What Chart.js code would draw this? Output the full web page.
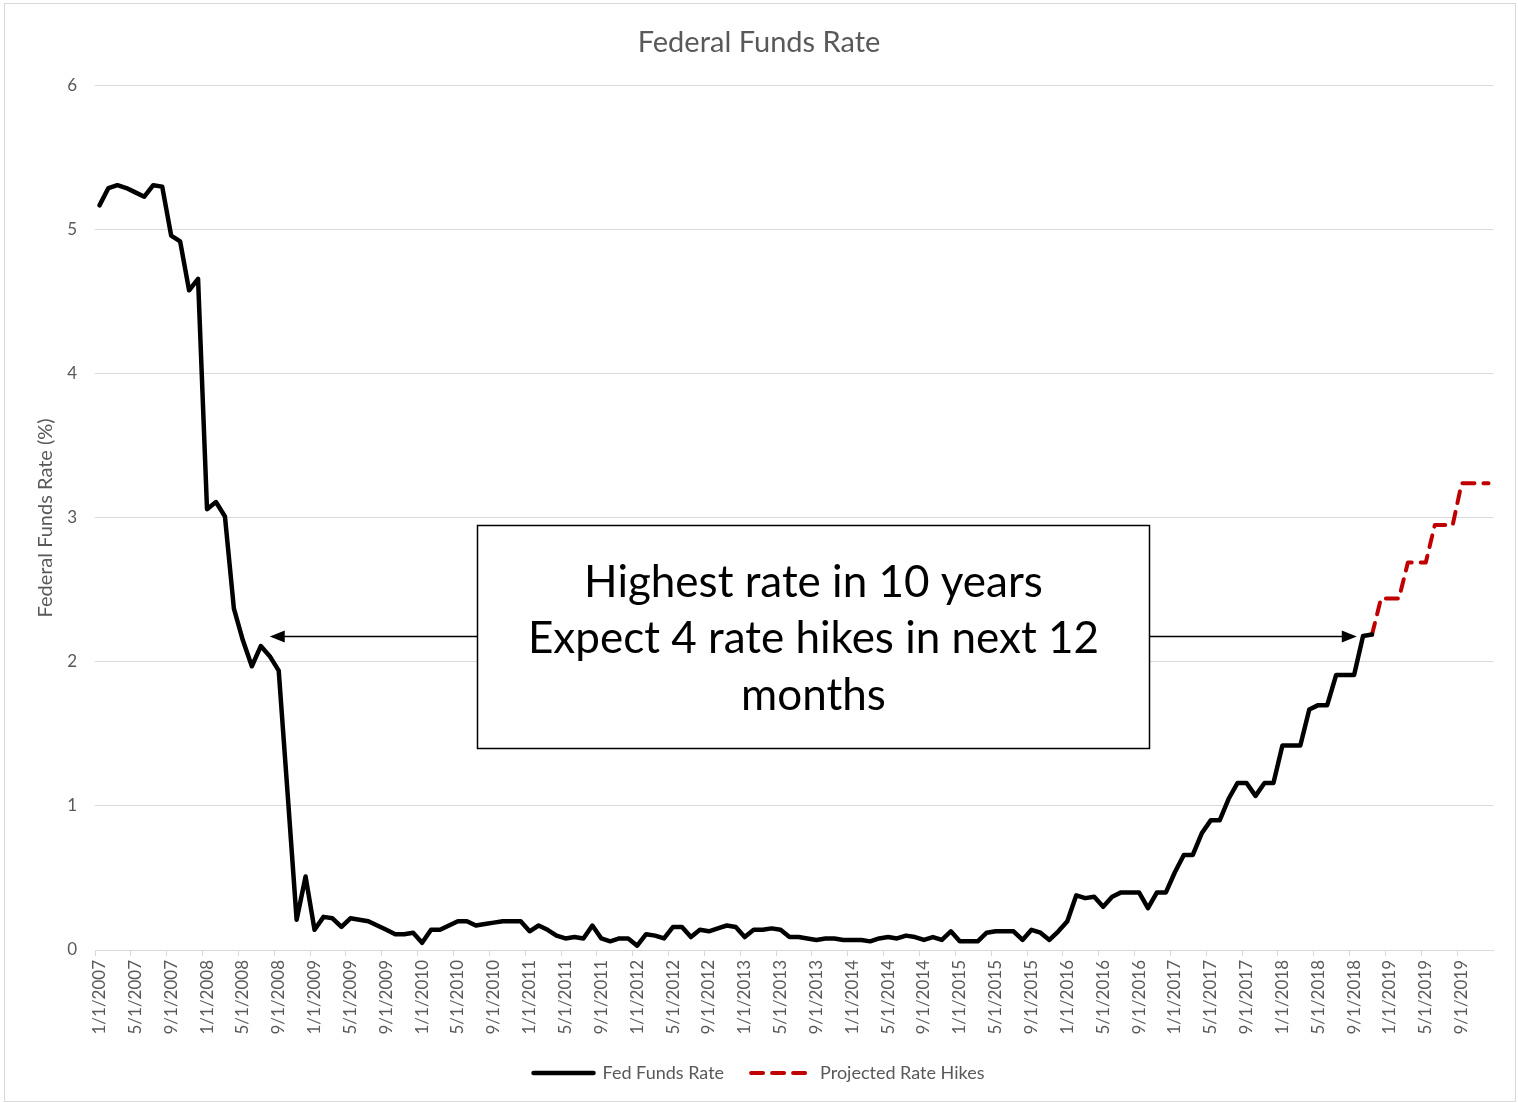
<!DOCTYPE html>
<html>
<head>
<meta charset="utf-8">
<title>Federal Funds Rate</title>
<script src="https://cdn.jsdelivr.net/npm/chart.js@4.4.1/dist/chart.umd.min.js"></script>
<style>
  html, body { margin: 0; padding: 0; background: #fff; }
  #wrap { position: relative; width: 1518px; height: 1103px; }
</style>
</head>
<body>
<div id="wrap"><canvas id="myChart"></canvas></div>
<script>
// months 1/1/2007 .. 12/1/2019 (date axis, one slot per month)
const months = [];
for (let yr = 2007; yr <= 2019; yr++) {
  for (let mo = 1; mo <= 12; mo++) months.push(mo + '/1/' + yr);
}

// Fed Funds Rate, 1/1/2007 .. 11/1/2018
const fedFundsRate = [
  5.17, 5.29, 5.31, 5.29, 5.26, 5.23, 5.31, 5.30, 4.96, 4.92, 4.58, 4.66, // 2007
  3.06, 3.11, 3.01, 2.37, 2.15, 1.97, 2.11, 2.04, 1.94, 1.08, 0.21, 0.51, // 2008
  0.14, 0.23, 0.22, 0.16, 0.22, 0.21, 0.20, 0.17, 0.14, 0.11, 0.11, 0.12, // 2009
  0.05, 0.14, 0.14, 0.17, 0.20, 0.20, 0.17, 0.18, 0.19, 0.20, 0.20, 0.20, // 2010
  0.13, 0.17, 0.14, 0.10, 0.08, 0.09, 0.08, 0.17, 0.08, 0.06, 0.08, 0.08, // 2011
  0.03, 0.11, 0.10, 0.08, 0.16, 0.16, 0.09, 0.14, 0.13, 0.15, 0.17, 0.16, // 2012
  0.09, 0.14, 0.14, 0.15, 0.14, 0.09, 0.09, 0.08, 0.07, 0.08, 0.08, 0.07, // 2013
  0.07, 0.07, 0.06, 0.08, 0.09, 0.08, 0.10, 0.09, 0.07, 0.09, 0.07, 0.13, // 2014
  0.06, 0.06, 0.06, 0.12, 0.13, 0.13, 0.13, 0.07, 0.14, 0.12, 0.07, 0.13, // 2015
  0.20, 0.38, 0.36, 0.37, 0.30, 0.37, 0.40, 0.40, 0.40, 0.29, 0.40, 0.40, // 2016
  0.54, 0.66, 0.66, 0.81, 0.90, 0.90, 1.05, 1.16, 1.16, 1.07, 1.16, 1.16, // 2017
  1.42, 1.42, 1.42, 1.67, 1.70, 1.70, 1.91, 1.91, 1.91, 2.18, 2.19        // 2018
];

// Projected Rate Hikes, 11/1/2018 .. 12/1/2019
const projectedHikes = [2.19, 2.44, 2.44, 2.44, 2.69, 2.69, 2.69, 2.95, 2.95, 2.95, 3.24, 3.24, 3.24, 3.24];
const projectedFrom = fedFundsRate.length - 1;

const yMin = 0, yMax = 6, yStep = 1;
const labelEvery = 4;

const calloutText = ['Highest rate in 10 years', 'Expect 4 rate hikes in next 12', 'months'];

const GRAY = '#595959';
const GRID = '#d9d9d9';
const FONT = 'Lato, "Open Sans", sans-serif';

// text box + the two arrows, plus the outer chart frame
const callout = {
  id: 'callout',
  beforeDraw(chart) {
    const ctx = chart.ctx;
    ctx.save();
    ctx.fillStyle = '#fff';
    ctx.fillRect(0, 0, chart.width, chart.height);
    ctx.strokeStyle = GRID;
    ctx.lineWidth = 1;
    ctx.strokeRect(4.5, 3.5, chart.width - 7, chart.height - 5);
    ctx.restore();
  },
  afterDatasetsDraw(chart) {
    const { ctx, scales: { x, y } } = chart;
    const left = Math.round(x.getPixelForValue(42.1)) + 0.5;
    const right = Math.round(x.getPixelForValue(117.1)) + 0.5;
    const top = Math.round(y.getPixelForValue(2.95)) + 0.5;
    const bottom = Math.round(y.getPixelForValue(1.40)) + 0.5;
    const ay = Math.round(y.getPixelForValue(2.18)) + 0.5;
    const tipL = x.getPixelForValue(19.0);
    const tipR = x.getPixelForValue(140.3);

    ctx.save();
    ctx.strokeStyle = '#000';
    ctx.fillStyle = '#000';
    ctx.lineWidth = 1.5;

    // arrows
    ctx.beginPath();
    ctx.moveTo(left, ay); ctx.lineTo(tipL + 12, ay);
    ctx.moveTo(right, ay); ctx.lineTo(tipR - 12, ay);
    ctx.stroke();
    ctx.beginPath();
    ctx.moveTo(tipL, ay); ctx.lineTo(tipL + 15, ay - 6); ctx.lineTo(tipL + 15, ay + 6); ctx.closePath();
    ctx.moveTo(tipR, ay); ctx.lineTo(tipR - 15, ay - 6); ctx.lineTo(tipR - 15, ay + 6); ctx.closePath();
    ctx.fill();

    // box
    ctx.fillStyle = '#fff';
    ctx.fillRect(left, top, right - left, bottom - top);
    ctx.strokeRect(left, top, right - left, bottom - top);

    ctx.fillStyle = '#000';
    ctx.font = '44px ' + FONT;
    ctx.textAlign = 'center';
    ctx.textBaseline = 'middle';
    const cx = (left + right) / 2, cy = (top + bottom) / 2 + 2;
    calloutText.forEach((t, i) => ctx.fillText(t, cx, cy + (i - 1) * 56.5));
    ctx.restore();
  }
};

const data = {
  labels: months,
  datasets: [
    {
      label: 'Fed Funds Rate',
      data: fedFundsRate,
      borderColor: '#000',
      backgroundColor: '#000',
      borderWidth: 4.5,
      borderJoinStyle: 'round',
      borderCapStyle: 'round',
      pointRadius: 0,
      tension: 0
    },
    {
      label: 'Projected Rate Hikes',
      data: Array(projectedFrom).fill(null).concat(projectedHikes),
      borderColor: '#c00000',
      backgroundColor: '#c00000',
      borderWidth: 4,
      borderDash: [12, 9],
      borderCapStyle: 'round',
      borderJoinStyle: 'round',
      pointRadius: 0,
      tension: 0
    }
  ]
};

const config = {
  type: 'line',
  data,
  options: {
    responsive: true,
    maintainAspectRatio: false,
    animation: false,
    events: [],
    layout: { padding: { left: 25, right: 25, top: 0, bottom: 11 } },
    plugins: {
      title: {
        display: true,
        text: 'Federal Funds Rate',
        color: GRAY,
        font: { family: FONT, size: 29, weight: 'normal', lineHeight: 1.2 },
        padding: { top: 25, bottom: 26 }
      },
      legend: {
        position: 'bottom',
        labels: {
          color: GRAY,
          font: { family: FONT, size: 18 },
          usePointStyle: true,
          pointStyle: 'line',
          pointStyleWidth: 60,
          padding: 27,
          generateLabels: chart =>
            Chart.defaults.plugins.legend.labels.generateLabels(chart).map((item, i) => {
              const ds = chart.data.datasets[i];
              item.lineDash = ds.borderDash || [];
              item.lineWidth = ds.borderWidth;
              item.lineCap = 'round';
              item.strokeStyle = ds.borderColor;
              return item;
            })
        }
      },
      tooltip: { enabled: false }
    },
    scales: {
      x: {
        type: 'category',
        offset: true,
        grid: {
          offset: true,
          drawOnChartArea: false,
          drawTicks: true,
          tickLength: 6,
          color: ctx => (ctx.index % labelEvery === 0 ? GRID : 'rgba(0,0,0,0)')
        },
        border: { display: true, color: GRID, width: 1 },
        ticks: {
          autoSkip: false,
          maxRotation: 90,
          minRotation: 90,
          padding: 4,
          color: GRAY,
          font: { family: FONT, size: 17 },
          callback: function (val, i) { return i % labelEvery === 0 ? this.getLabelForValue(val) : ''; }
        },
        afterFit: s => { s.height = 87; }
      },
      y: {
        min: yMin,
        max: yMax,
        grid: { color: GRID, lineWidth: 1, drawTicks: false },
        border: { display: false },
        ticks: {
          stepSize: yStep,
          padding: 18,
          color: GRAY,
          font: { family: FONT, size: 17 }
        },
        title: {
          display: true,
          text: 'Federal Funds Rate (%)',
          color: GRAY,
          font: { family: FONT, size: 20 },
          padding: { top: 9 }
        },
        afterFit: s => { s.width = 70; }
      }
    }
  },
  plugins: [callout]
};

const myChart = new Chart(document.getElementById('myChart'), config);
</script>
</body>
</html>
